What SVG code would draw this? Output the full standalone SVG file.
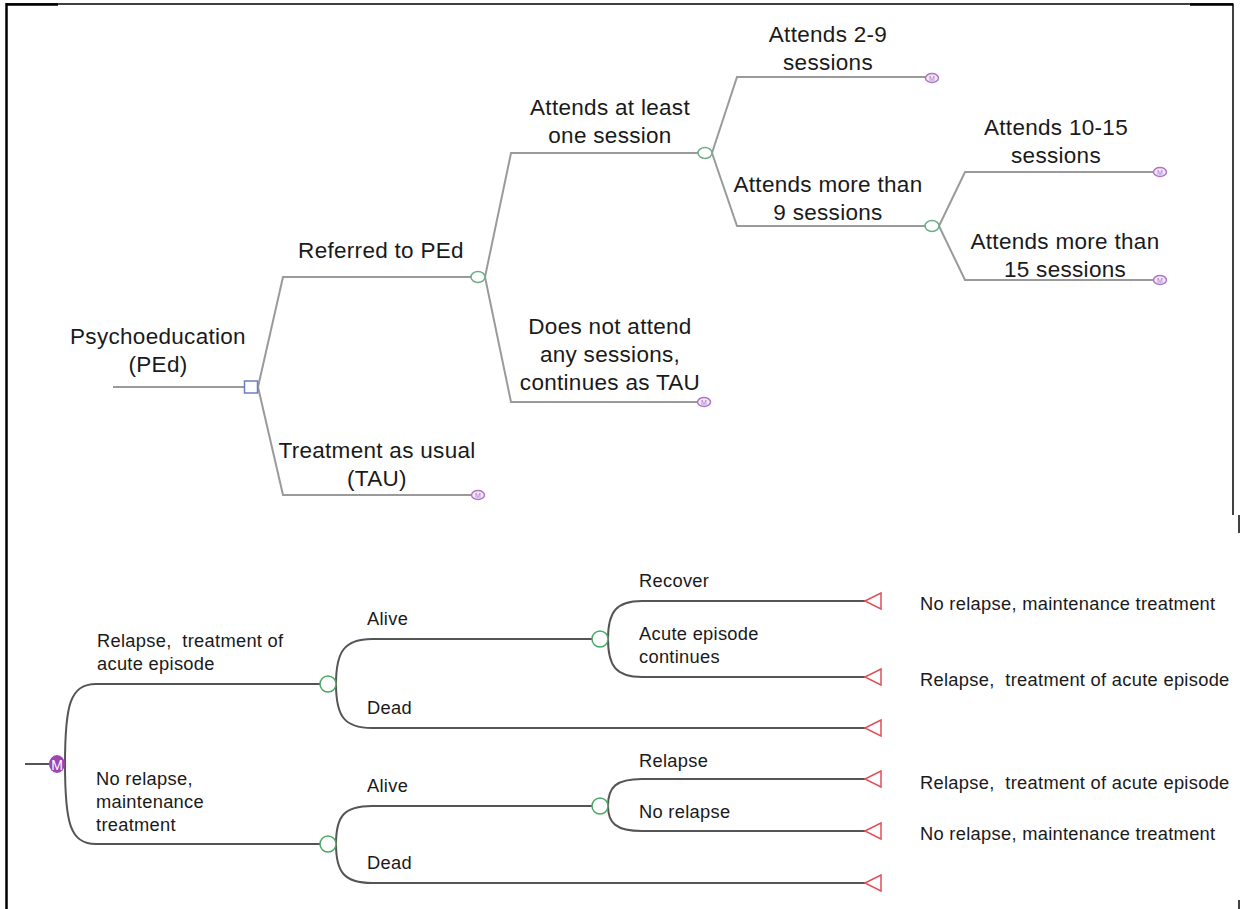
<svg xmlns="http://www.w3.org/2000/svg" width="1240" height="909" viewBox="0 0 1240 909">
<style>
.t{font-family:"Liberation Sans",Arial,sans-serif;font-size:22.5px;letter-spacing:0.3px;fill:#1a1a1a;text-anchor:middle}
.b{font-family:"Liberation Sans",Arial,sans-serif;font-size:18.3px;letter-spacing:0.3px;fill:#1a1a1a;white-space:pre}
.lt{fill:none;stroke:#9a9a9a;stroke-width:2}
.lb{fill:none;stroke:#555;stroke-width:2}
.ch{fill:#fff;stroke:#6aae86;stroke-width:1.5}
.chb{fill:#fff;stroke:#4aa865;stroke-width:1.5}
.term{fill:#f3e6f6;stroke:#b274c4;stroke-width:1.5}
.tri{fill:#fff;stroke:#e0505a;stroke-width:1.5}
.mt{font-family:"Liberation Sans",Arial,sans-serif;font-size:7px;fill:#b274c4;text-anchor:middle}
.frame{stroke:#000;fill:none}
</style>
<rect width="1240" height="909" fill="#fff"/>
<g id="frame">
<line class="frame" x1="6.5" y1="3" x2="6.5" y2="909" stroke-width="2.5"/>
<line class="frame" x1="6" y1="4" x2="1233" y2="4" stroke-width="1.5"/>
<line class="frame" x1="6" y1="4.5" x2="58" y2="4.5" stroke-width="2.5"/>
<line class="frame" x1="1190" y1="4.5" x2="1233" y2="4.5" stroke-width="2.5"/>
<line class="frame" x1="1233" y1="3.5" x2="1233" y2="515" stroke-width="1.5"/>
<line class="frame" x1="1239" y1="515" x2="1239" y2="533" stroke-width="1.5"/>
<line class="frame" x1="1239" y1="900" x2="1239" y2="909" stroke-width="1.5"/>
</g>
<g id="connectors">
<path class="lt" d="M113,387 H244"/>
<path class="lt" d="M258,387 L283,277 H471"/>
<path class="lt" d="M258,387 L283,495 H472"/>
<path class="lt" d="M485,277 L511,153 H698"/>
<path class="lt" d="M485,277 L511,402 H698"/>
<path class="lt" d="M712,153 L737,77 H926"/>
<path class="lt" d="M712,153 L737,226 H925"/>
<path class="lt" d="M939,226 L965,172 H1154"/>
<path class="lt" d="M939,226 L965,280 H1154"/>
<path class="lb" d="M25,764 H49"/>
<path class="lb" d="M65,764 C65,705 70,684 96,684 H320"/>
<path class="lb" d="M65,764 C65,823 70,844 96,844 H320"/>
<path class="lb" d="M336,684 C336,652 344,639 372,639 H592"/>
<path class="lb" d="M336,684 C336,716 344,728 372,728 H865"/>
<path class="lb" d="M608,639 C608,612 616,601 642,601 H865"/>
<path class="lb" d="M608,639 C608,666 616,677 642,677 H865"/>
<path class="lb" d="M336,844 C336,816 344,806 372,806 H592"/>
<path class="lb" d="M336,844 C336,872 344,883 372,883 H865"/>
<path class="lb" d="M608,806 C608,787 616,779 642,779 H865"/>
<path class="lb" d="M608,806 C608,823 616,831 642,831 H865"/>
</g>
<g id="n-root-decision"><rect x="244.5" y="381" width="13" height="12" fill="#fff" stroke="#6b7fc4" stroke-width="1.5"/></g>
<g id="n-psychoeducation"><text class="t" x="158" y="344">Psychoeducation</text><text class="t" x="158" y="372">(PEd)</text></g>
<g id="n-referred"><ellipse class="ch" cx="478" cy="277" rx="7" ry="5.5"/><text class="t" x="381" y="258">Referred to PEd</text></g>
<g id="n-tau"><ellipse class="term" cx="478" cy="495" rx="6.5" ry="4.5"/><text class="mt" x="478" y="497.5">M</text><text class="t" x="377" y="458">Treatment as usual</text><text class="t" x="377" y="486">(TAU)</text></g>
<g id="n-atleastone"><ellipse class="ch" cx="705" cy="153" rx="7" ry="5.5"/><text class="t" x="610" y="115">Attends at least</text><text class="t" x="610" y="143">one session</text></g>
<g id="n-noattend"><ellipse class="term" cx="704" cy="402" rx="6.5" ry="4.5"/><text class="mt" x="704" y="404.5">M</text><text class="t" x="610" y="334">Does not attend</text><text class="t" x="610" y="362">any sessions,</text><text class="t" x="610" y="390">continues as TAU</text></g>
<g id="n-2-9"><ellipse class="term" cx="932" cy="78" rx="6.5" ry="4.5"/><text class="mt" x="932" y="80.5">M</text><text class="t" x="828" y="42">Attends 2-9</text><text class="t" x="828" y="70">sessions</text></g>
<g id="n-more9"><ellipse class="ch" cx="932" cy="226" rx="7" ry="5.5"/><text class="t" x="828" y="192">Attends more than</text><text class="t" x="828" y="220">9 sessions</text></g>
<g id="n-10-15"><ellipse class="term" cx="1160" cy="172" rx="6.5" ry="4.5"/><text class="mt" x="1160" y="174.5">M</text><text class="t" x="1056" y="135">Attends 10-15</text><text class="t" x="1056" y="163">sessions</text></g>
<g id="n-more15"><ellipse class="term" cx="1160" cy="280" rx="6.5" ry="4.5"/><text class="mt" x="1160" y="282.5">M</text><text class="t" x="1065" y="249">Attends more than</text><text class="t" x="1065" y="277">15 sessions</text></g>
<g id="n-markov"><ellipse cx="57" cy="764" rx="8" ry="9" fill="#a044b0"/><text x="57" y="769.5" font-family="Liberation Sans,Arial,sans-serif" font-size="14" fill="#fff" text-anchor="middle">M</text></g>
<g id="n-relapse-state"><circle class="chb" cx="328" cy="684" r="8"/><text class="b" x="97" y="647">Relapse,  treatment of</text><text class="b" x="97" y="670">acute episode</text></g>
<g id="n-norelapse-state"><circle class="chb" cx="328" cy="844" r="8"/><text class="b" x="96" y="785">No relapse,</text><text class="b" x="96" y="808">maintenance</text><text class="b" x="96" y="831">treatment</text></g>
<g id="n-alive1"><circle class="chb" cx="600" cy="639" r="8"/><text class="b" x="367" y="625">Alive</text></g>
<g id="n-dead1"><path class="tri" d="M865,728 L881,720 V736 Z"/><text class="b" x="367" y="714">Dead</text></g>
<g id="n-recover"><path class="tri" d="M865,601 L881,593 V609 Z"/><text class="b" x="639" y="587">Recover</text><text class="b" x="920" y="610">No relapse, maintenance treatment</text></g>
<g id="n-acute"><path class="tri" d="M865,677 L881,669 V685 Z"/><text class="b" x="639" y="640">Acute episode</text><text class="b" x="639" y="663">continues</text><text class="b" x="920" y="686">Relapse,  treatment of acute episode</text></g>
<g id="n-alive2"><circle class="chb" cx="600" cy="806" r="8"/><text class="b" x="367" y="792">Alive</text></g>
<g id="n-dead2"><path class="tri" d="M865,883 L881,875 V891 Z"/><text class="b" x="367" y="869">Dead</text></g>
<g id="n-relapse"><path class="tri" d="M865,779 L881,771 V787 Z"/><text class="b" x="639" y="767">Relapse</text><text class="b" x="920" y="789">Relapse,  treatment of acute episode</text></g>
<g id="n-norelapse"><path class="tri" d="M865,831 L881,823 V839 Z"/><text class="b" x="639" y="818">No relapse</text><text class="b" x="920" y="840">No relapse, maintenance treatment</text></g>
</svg>
